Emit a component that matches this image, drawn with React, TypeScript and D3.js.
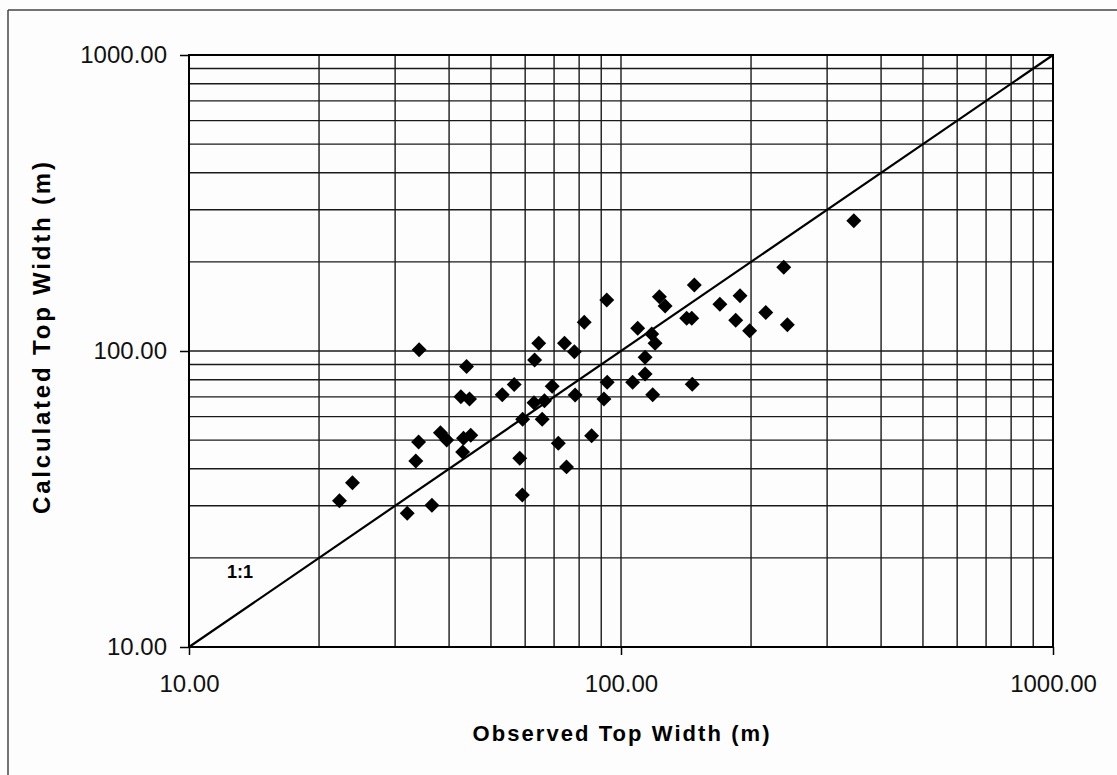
import React, { useEffect, useRef } from "react";
import * as d3 from "d3";

// observed (x) vs calculated (y) top width, metres
const observed = [
  22.3, 23.9, 32.0, 36.5, 33.5, 34.0, 34.1, 38.2, 39.5, 43.2,
  44.9, 43.0, 42.6, 44.6, 43.9, 53.1, 56.6, 59.2, 58.3, 59.1,
  63.1, 64.5, 62.9, 66.5, 65.7, 69.3, 71.6, 74.8, 74.0, 78.0,
  78.3, 82.2, 85.5, 92.7, 91.3, 92.9, 106.4, 109.3, 113.7, 113.7,
  118.4, 117.8, 119.9, 122.7, 126.5, 141.9, 145.8, 147.8, 146.2, 169.4,
  188.6, 184.3, 198.5, 216.3, 238.1, 242.7, 345.9,
];
const calculated = [
  31.2, 35.9, 28.3, 30.1, 42.5, 49.3, 101, 52.9, 50.0, 50.7,
  51.9, 45.6, 70.1, 68.8, 88.7, 71.2, 77.0, 58.8, 43.4, 32.6,
  93.2, 106.2, 66.9, 67.9, 58.8, 76.0, 48.8, 40.6, 106.2, 99.5,
  71.0, 125, 51.7, 148.7, 68.8, 78.4, 78.4, 119.3, 95.2, 83.6,
  71.2, 114.1, 106.2, 152.6, 141.9, 129, 129, 167.1, 77.2, 143.9,
  153.7, 127, 117, 134.9, 191.8, 122.7, 275.4,
];
const majorTicks = [10, 100, 1000];
const tickLabels = ["10.00", "100.00", "1000.00"];
const domain = [10, 1000];

const W = 1117;
const H = 775;

const App = () => {
  const ref = useRef<SVGSVGElement>(null);

  useEffect(() => {
    const svg = d3.select(ref.current);
    svg.selectAll("*").remove();

    const left = 189, right = 1053, top = 55, bottom = 647;
    const x = d3.scaleLog().domain(domain).range([left, right]);
    const y = d3.scaleLog().domain(domain).range([bottom, top]);
    const font = "'Liberation Sans', Arial, sans-serif";

    svg.append("rect").attr("width", W).attr("height", H).attr("fill", "#fdfdfd");

    // outer frame of the figure (only top and left survive in the scan)
    svg.append("line").attr("x1", 8).attr("x2", W).attr("y1", 10).attr("y2", 10)
      .attr("stroke", "#444").attr("stroke-width", 1.5);
    svg.append("line").attr("x1", 8).attr("x2", 8).attr("y1", 10).attr("y2", H)
      .attr("stroke", "#444").attr("stroke-width", 1.5);

    // grid: every 1..9 x decade
    const gridVals = x.ticks().filter((v) => v > domain[0] && v < domain[1]);
    const grid = svg.append("g").attr("stroke", "#1a1a1a").attr("stroke-width", 1.4);
    grid.selectAll(".gx").data(gridVals).enter().append("line")
      .attr("x1", (d) => x(d)).attr("x2", (d) => x(d))
      .attr("y1", top).attr("y2", bottom);
    grid.selectAll(".gy").data(gridVals).enter().append("line")
      .attr("y1", (d) => y(d)).attr("y2", (d) => y(d))
      .attr("x1", left).attr("x2", right);

    // plot frame
    svg.append("rect").attr("x", left).attr("y", top)
      .attr("width", right - left).attr("height", bottom - top)
      .attr("fill", "none").attr("stroke", "#000").attr("stroke-width", 2);

    // axes with major ticks only
    const fmt = (d: any) => tickLabels[majorTicks.indexOf(d)];
    const xAxis = svg.append("g").attr("transform", `translate(0,${bottom})`)
      .call(d3.axisBottom(x).tickValues(majorTicks).tickFormat(fmt).tickSize(8).tickPadding(20));
    const yAxis = svg.append("g").attr("transform", `translate(${left},0)`)
      .call(d3.axisLeft(y).tickValues(majorTicks).tickFormat(fmt).tickSize(9).tickPadding(13));
    [xAxis, yAxis].forEach((a) => {
      a.select(".domain").remove();
      a.selectAll("line").attr("stroke", "#000").attr("stroke-width", 1.5);
      a.selectAll("text")
        .attr("font-family", font)
        .attr("font-size", 24)
        .attr("fill", "#111");
    });

    // 1:1 line
    svg.append("line")
      .attr("x1", x(domain[0])).attr("y1", y(domain[0]))
      .attr("x2", x(domain[1])).attr("y2", y(domain[1]))
      .attr("stroke", "#000").attr("stroke-width", 2.2);
    svg.append("text").attr("x", 227).attr("y", 578)
      .attr("font-family", font)
      .attr("font-weight", "bold").attr("font-size", 18).text("1:1");

    // diamonds
    const sym = d3.symbol().type(d3.symbolSquare).size(112);
    svg.append("g").selectAll("path").data(observed).enter().append("path")
      .attr("d", sym)
      .attr("transform", (d, i) => `translate(${x(d)},${y(calculated[i])}) rotate(45)`)
      .attr("fill", "#000");

    // axis titles
    svg.append("text")
      .attr("x", (left + right) / 2).attr("y", 741)
      .attr("text-anchor", "middle")
      .attr("font-family", font)
      .attr("font-weight", "bold").attr("font-size", 22)
      .attr("textLength", 297).attr("lengthAdjust", "spacing")
      .text("Observed Top Width (m)");
    svg.append("text")
      .attr("transform", `translate(50,338) rotate(-90)`)
      .attr("text-anchor", "middle")
      .attr("font-family", font)
      .attr("font-weight", "bold").attr("font-size", 24)
      .attr("textLength", 352).attr("lengthAdjust", "spacing")
      .text("Calculated Top Width (m)");

    return () => {
      svg.selectAll("*").remove();
    };
  }, []);

  return (
    <svg
      ref={ref}
      width={W}
      height={H}
      style={{ position: "absolute", left: 0, top: 0 }}
    ></svg>
  );
};

export default App;
